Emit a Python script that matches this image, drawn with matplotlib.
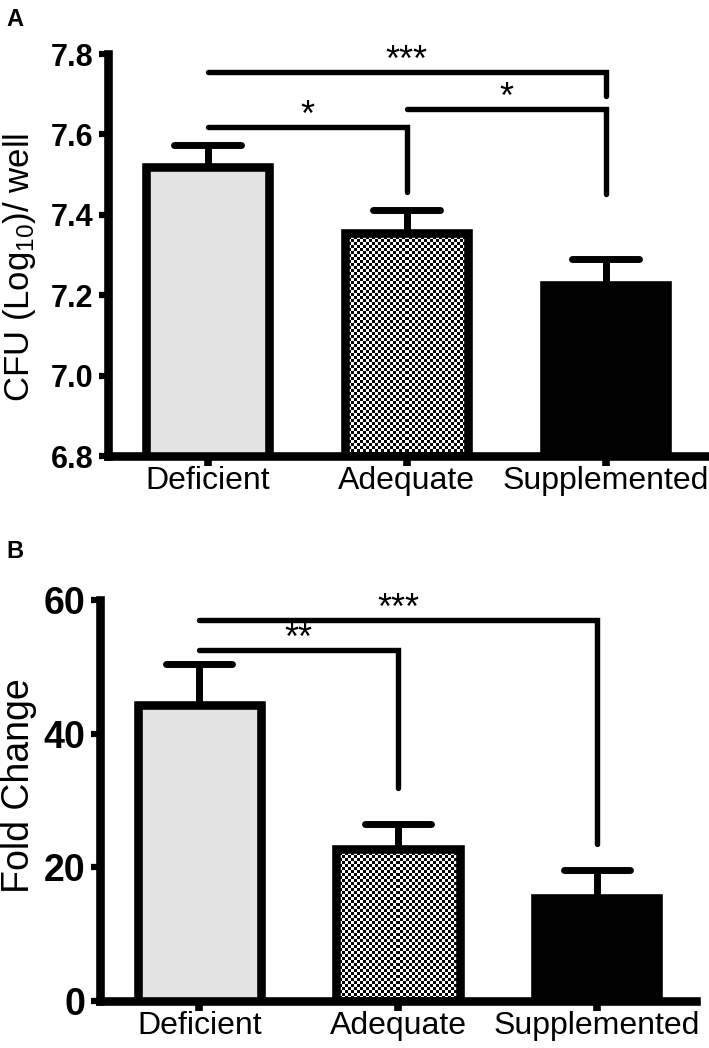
import numpy as np
import matplotlib
matplotlib.use("Agg")
import matplotlib.pyplot as plt

plt.rcParams["font.family"] = ["Liberation Sans", "DejaVu Sans"]
plt.rcParams["mathtext.default"] = "regular"

# data
groups = ["Deficient", "Adequate", "Supplemented"]

cfu_mean = [7.518, 7.354, 7.226]
cfu_sem = [0.055, 0.057, 0.064]
cfu_ticks = [6.8, 7.0, 7.2, 7.4, 7.6, 7.8]
cfu_tick_labels = ["6.8", "7.0", "7.2", "7.4", "7.6", "7.8"]
cfu_sig_pairs = [(0, 2), (0, 1), (1, 2)]
cfu_sig_level = [7.756, 7.618, 7.664]
cfu_sig_end = [7.695, 7.457, 7.452]
cfu_sig_text = ["***", "*", "*"]

fold_mean = [44.3, 22.7, 15.4]
fold_sem = [6.1, 3.8, 4.2]
fold_ticks = [0, 20, 40, 60]
fold_tick_labels = ["0", "20", "40", "60"]
fold_sig_pairs = [(0, 2), (0, 1)]
fold_sig_level = [57.0, 52.5]
fold_sig_end = [23.5, 31.8]
fold_sig_text = ["***", "**"]

FILLS = ["#e3e3e3", "checker", "black"]
BAR_W = 0.62
LW = 6.2
CAP_HALF = 0.166
W, H = 709, 1048


def checker_fill(ax, patch, cell_px=3):
    """Fill a bar patch with an axis-aligned black/white checkerboard."""
    ax.figure.canvas.draw()
    x0, y0 = patch.get_x(), patch.get_y()
    x1, y1 = x0 + patch.get_width(), y0 + patch.get_height()
    (px0, py0), (px1, py1) = ax.transData.transform([(x0, y0), (x1, y1)])
    w = max(int(round(abs(px1 - px0))), 1)
    h = max(int(round(abs(py1 - py0))), 1)
    yy, xx = np.mgrid[0:h, 0:w]
    board = ((xx // cell_px + yy // cell_px) % 2).astype(float)
    im = ax.imshow(board, cmap="gray", vmin=0, vmax=1, extent=(x0, x1, y0, y1),
                   interpolation="nearest", aspect="auto", zorder=2)
    im.set_clip_path(patch)


def draw_panel(ax, means, sems, ybottom, ytop, ticks, tick_labels, pairs, levels,
               ends, texts, tick_size, ylabel, ylabel_size, ylabel_xy):
    x = np.arange(len(groups))
    heights = [m - ybottom for m in means]

    # error bars (upper only): stem + rounded cap
    tops = [m + s for m, s in zip(means, sems)]
    ax.vlines(x, means, tops, color="black", lw=5, zorder=1)
    caps = ax.hlines(tops, x - CAP_HALF, x + CAP_HALF, color="black", lw=5, zorder=4)
    caps.set_capstyle("round")

    bars = ax.bar(x, heights, bottom=ybottom, width=BAR_W, edgecolor="black",
                  linewidth=LW, zorder=3)
    for b, fill in zip(bars, FILLS):
        b.set_facecolor("none" if fill == "checker" else fill)

    ax.set_xlim(-0.5, 2.5)
    ax.set_ylim(ybottom, ytop)
    for b, fill in zip(bars, FILLS):
        if fill == "checker":
            checker_fill(ax, b)

    # significance brackets
    for (i, j), lev, end, txt in zip(pairs, levels, ends, texts):
        ln, = ax.plot([x[i], x[j], x[j]], [lev, lev, end], color="black",
                      lw=3.9, zorder=4, clip_on=False)
        ln.set_solid_capstyle("round")
        ln.set_solid_joinstyle("miter")
        ax.annotate(txt, xy=((x[i] + x[j]) / 2, lev), xytext=(0, -5),
                    textcoords="offset points", ha="center", va="bottom",
                    fontsize=26, annotation_clip=False)

    ax.spines["top"].set_visible(False)
    ax.spines["right"].set_visible(False)
    for side in ("left", "bottom"):
        ax.spines[side].set_linewidth(LW)
        ax.spines[side].set_capstyle("projecting")

    ax.set_xticks(x)
    ax.set_xticklabels(groups, fontsize=23)
    ax.set_yticks(ticks)
    ax.set_yticklabels(tick_labels, fontsize=tick_size, fontweight="bold")
    ax.tick_params(axis="x", length=7.5, width=5.5, pad=0)
    ax.tick_params(axis="y", length=6.5, width=4.5, pad=4)
    ax.set_ylabel(ylabel, fontsize=ylabel_size)
    ax.yaxis.set_label_coords(*ylabel_xy)


fig = plt.figure(figsize=(W / 100, H / 100), dpi=100)
ax_a = fig.add_axes([108 / W, 1 - 456 / H, 597 / W, 402 / H])
ax_b = fig.add_axes([100 / W, 1 - 1001 / H, 596 / W, 401 / H])

draw_panel(ax_a, cfu_mean, cfu_sem, 6.8, 7.8, cfu_ticks, cfu_tick_labels,
           cfu_sig_pairs, cfu_sig_level, cfu_sig_end, cfu_sig_text,
           tick_size=22, ylabel="CFU (Log$_{10}$)/ well", ylabel_size=25,
           ylabel_xy=((38 - 108) / 597, 0.47))
draw_panel(ax_b, fold_mean, fold_sem, 0, 60, fold_ticks, fold_tick_labels,
           fold_sig_pairs, fold_sig_level, fold_sig_end, fold_sig_text,
           tick_size=27, ylabel="Fold Change", ylabel_size=27,
           ylabel_xy=((37 - 100) / 596, 0.536))

fig.text(6 / W, 1 - 26 / H, "A", fontsize=17, fontweight="bold")
fig.text(6 / W, 1 - 558 / H, "B", fontsize=17, fontweight="bold")

fig.savefig("out.png", dpi=100, facecolor="white")
